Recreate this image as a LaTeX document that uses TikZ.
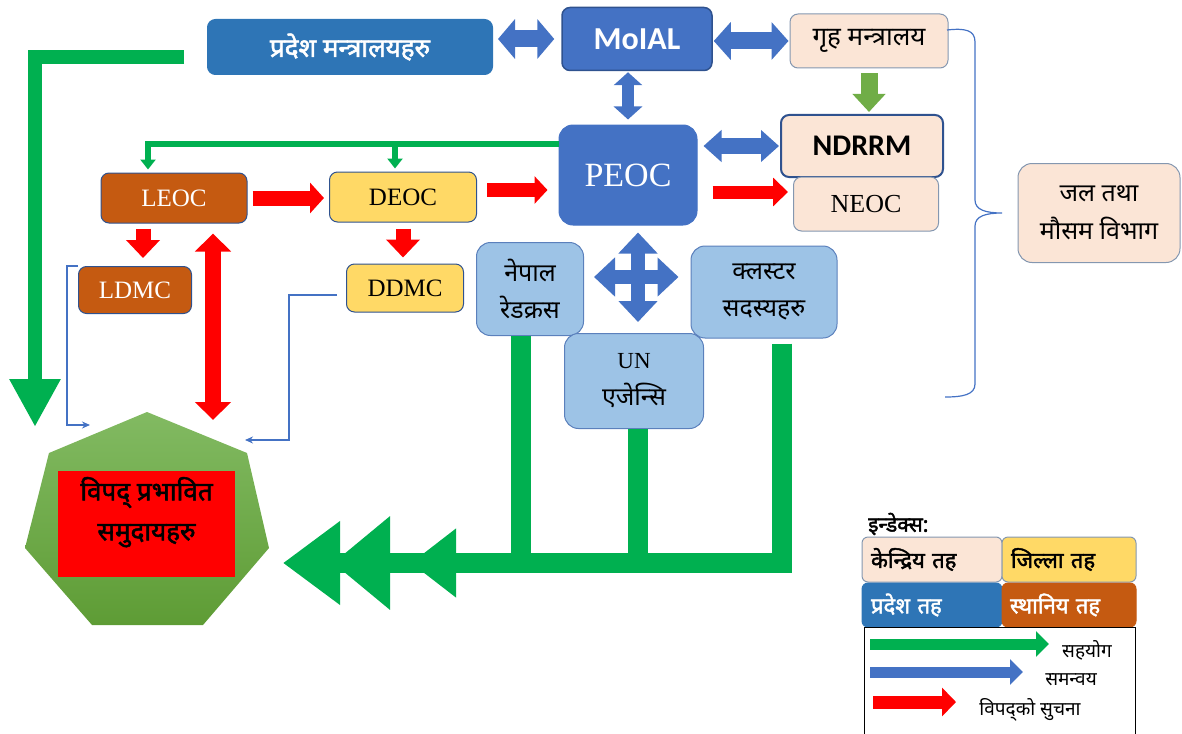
\documentclass[tikz,border=0pt]{standalone}
\usepackage{fontspec}
\setmainfont{Liberation Serif}
\newfontfamily\deva[Script=Devanagari]{Noto Sans}
\newfontfamily\devab[Script=Devanagari,FakeBold=2]{Noto Sans}
\newfontfamily\cali{Carlito}
\usetikzlibrary{arrows.meta}
\newcommand\npf[2]{\deva\fontsize{#1}{#2}\selectfont}
\newcommand\npb[2]{\devab\fontsize{#1}{#2}\selectfont}
\newcommand\ltf[1]{\fontsize{#1}{#1}\selectfont}
\definecolor{provblue}{HTML}{2E75B6}
\definecolor{oeblue}{HTML}{4472C4}
\definecolor{oeline}{HTML}{2F528F}
\definecolor{peach}{HTML}{FBE5D6}
\definecolor{peachline}{HTML}{8497B0}
\definecolor{skyfill}{HTML}{9DC3E6}
\definecolor{skyline}{HTML}{5B80BC}
\definecolor{rust}{HTML}{C55A11}
\definecolor{sun}{HTML}{FFD966}
\definecolor{leaf}{HTML}{00B050}
\definecolor{moss}{HTML}{70AD47}
\definecolor{alarm}{HTML}{FF0000}
\definecolor{heptop}{HTML}{82BA62}
\definecolor{heptbot}{HTML}{5E9C35}
\tikzset{
  box/.style={rounded corners=8pt, line width=1pt, inner sep=0pt, align=center},
  dbl/.style n args={3}{line width=#1, {Triangle[length=#2,width=#3]}-{Triangle[length=#2,width=#3]}},
  sgl/.style n args={3}{line width=#1, -{Triangle[length=#2,width=#3]}},
  thinlink/.style={oeblue, line width=1.2pt, -{Stealth[length=8pt,width=7pt]}}
}
\begin{document}
\begin{tikzpicture}[x=1pt, y=-1pt]
    \useasboundingbox (0, 0) rectangle (1182, 733);

    \node[box, fill=provblue, draw=provblue, text=white, minimum width=285pt, minimum height=55pt, font={\npb{26}{30}}] (prov) at (350, 47) {प्रदेश मन्त्रालयहरु};
    \node[box, fill=oeblue, draw=oeline, line width=1.5pt, text=white, minimum width=150pt, minimum height=63pt, font={\cali\bfseries\fontsize{32}{36}\selectfont}] (moial) at (637, 39) {MoIAL};
    \node[box, fill=peach, draw=peachline, minimum width=158pt, minimum height=54pt, font={\npf{26}{30}}] (griha) at (869, 41) {गृह मन्त्रालय};
    \node[box, fill=oeblue, draw=oeblue, text=white, rounded corners=14pt, minimum width=138pt, minimum height=100pt, font=\ltf{34}] (peoc) at (628, 175) {PEOC};
    \node[box, fill=peach, draw=oeline, line width=2pt, minimum width=162pt, minimum height=62pt, font={\cali\bfseries\fontsize{30}{34}\selectfont}] (ndrrm) at (862, 146) {NDRRM};
    \node[box, fill=peach, draw=peachline, minimum width=145pt, minimum height=54pt, font=\ltf{26}] (neoc) at (866, 204) {NEOC};
    \node[box, fill=rust, draw=oeline, text=white, minimum width=146pt, minimum height=50pt, font=\ltf{25}] (leoc) at (174, 198) {LEOC};
    \node[box, fill=sun, draw=oeline, minimum width=147pt, minimum height=50pt, font=\ltf{25}] (deoc) at (403, 197) {DEOC};
    \node[box, fill=rust, draw=oeline, text=white, minimum width=113pt, minimum height=47pt, font=\ltf{25}] (ldmc) at (135, 290) {LDMC};
    \node[box, fill=sun, draw=oeline, minimum width=117pt, minimum height=48pt, font=\ltf{25}] (ddmc) at (405, 288) {DDMC};
    \node[box, fill=skyfill, draw=skyline, rounded corners=14pt, minimum width=107pt, minimum height=93pt, font={\npf{25}{37}}] (nepal) at (530, 289) {नेपाल\\रेडक्रस};
    \node[box, fill=skyfill, draw=skyline, rounded corners=14pt, minimum width=146pt, minimum height=92pt, font={\npf{25}{37}}] (cluster) at (764, 292) {क्लस्टर\\सदस्यहरु};
    \node[box, fill=skyfill, draw=skyline, rounded corners=14pt, minimum width=139pt, minimum height=95pt, font={\npf{25}{37}}] (un) at (634, 381) {{\rmfamily\ltf{23}UN}\\एजेन्सि};
    \node[box, fill=peach, draw=peachline, rounded corners=14pt, minimum width=162pt, minimum height=99pt, font={\npf{25}{38}}] (jal) at (1099, 213) {जल तथा\\मौसम विभाग};

    \shade[top color=heptop, bottom color=heptbot] (147, 412) -- (247, 453) -- (269, 548) -- (203, 625) -- (92, 625) -- (25, 548) -- (49, 453) -- cycle;
    \node[fill=alarm, inner sep=0pt, minimum width=177pt, minimum height=106pt] (vict) at (146.5, 524) {};
    \node[anchor=north, align=center, inner sep=0pt, font={\npb{26}{40}}] (victxt) at ([yshift=-6pt]vict.north) {विपद्‌ प्रभावित\\समुदायहरु};

    \coordinate (gtip) at (35, 427);
    \coordinate (hnr) at (213, 420);
    \coordinate (lt) at (90, 425);
    \coordinate (dt) at (245, 440);
    \coordinate (ct) at (283, 563);
    \coordinate (ut) at (333, 563);
    \coordinate (nt) at (411, 563);

    \draw[oeblue, dbl={17pt}{17pt}{39pt}, shorten <=5pt, shorten >=7pt] (prov.east |- moial.west) -- (moial.west);
    \draw[oeblue, dbl={17pt}{17pt}{37pt}, shorten <=1pt, shorten >=1pt] (griha.west -| moial.east) -- (griha.west);
    \draw[oeblue, dbl={12pt}{13pt}{28pt}, shorten <=1pt, shorten >=5pt] (peoc.north |- moial.south) -- (peoc.north);
    \draw[oeblue, dbl={16pt}{18pt}{31pt}, shorten <=6pt, shorten >=1pt] (ndrrm.west -| peoc.east) -- (ndrrm.west);
    \draw[moss, sgl={17pt}{18pt}{32pt}, shorten <=5pt, shorten >=2pt] (griha.south) -- (griha.south |- ndrrm.north);
    \draw[alarm, sgl={13pt}{15pt}{28pt}, shorten <=15pt, shorten >=5pt] ([yshift=-17pt]peoc.east) -- ([yshift=12pt]neoc.west);
    \draw[alarm, sgl={15pt}{14pt}{30pt}, shorten <=5pt, shorten >=5pt] (leoc.east) -- (leoc.east -| deoc.west);
    \draw[alarm, sgl={14pt}{13pt}{27pt}, shorten <=10pt, shorten >=11pt] ([yshift=7pt]deoc.east) -- ([yshift=-15pt]peoc.west);
    \draw[alarm, sgl={15pt}{18pt}{33pt}, shorten <=5pt, shorten >=8pt] ([xshift=-31pt]leoc.south) -- ([xshift=8pt]ldmc.north);
    \draw[alarm, sgl={15pt}{18pt}{33pt}, shorten <=6pt, shorten >=6pt] (deoc.south) -- (deoc.south |- ddmc.north);
    \draw[alarm, dbl={16pt}{18pt}{35pt}, shorten <=10pt] ([xshift=39pt]leoc.south) -- (hnr);

    \draw[leaf, line width=6pt, -{Triangle[length=10pt,width=15pt]}, shorten >=3pt] ([yshift=31pt]peoc.west) -| ([xshift=-26pt]leoc.north);
    \draw[leaf, line width=6pt, -{Triangle[length=10pt,width=15pt]}, shorten >=3pt] ([xshift=-8pt]deoc.north) ++(0, -28) -- ([xshift=-8pt]deoc.north);
    \draw[leaf, line width=14pt, -{Triangle[length=48pt,width=48pt]}] ([xshift=-23pt,yshift=-10pt]prov.west) -| (gtip);

    \draw[thinlink] (ldmc.north west) -- ++(-11, 0) |- (lt);
    \draw[thinlink, shorten <=9pt] ([yshift=-7pt]ddmc.west) -- ++(-57, 0) |- (dt);

    \draw[oeblue, dbl={14pt}{21pt}{38pt}, shorten <=10pt, shorten >=12pt] ([yshift=12pt]nepal.east) -- ([yshift=15pt]cluster.west);
    \draw[oeblue, dbl={14pt}{21pt}{38pt}, shorten <=7pt, shorten >=11pt] ([xshift=10pt]peoc.south) -- ([xshift=4pt]un.north);

    \draw[leaf, line width=20pt, -{Triangle[length=57pt,width=80pt]}, shorten <=5pt] ([xshift=18pt]cluster.south) |- (ct);
    \draw[leaf, line width=20pt, -{Triangle[length=57pt,width=90pt]}] ([xshift=4pt]un.south) |- (ut);
    \draw[leaf, line width=20pt, -{Triangle[length=45pt,width=66pt]}] ([xshift=-9pt]nepal.south) |- (nt);

    \draw[oeblue, line width=1.2pt] (947, 30) .. controls (965, 28) and (975, 30) .. (975, 42) -- (975, 200) .. controls (975, 210) and (986, 213) .. (1002, 213) .. controls (986, 213) and (975, 216) .. (975, 226) -- (975, 384) .. controls (975, 395) and (962, 397) .. (945, 397);

    \node[anchor=west, inner sep=0pt, font={\npb{21}{24}}] (idx) at (868, 524) {इन्डेक्स:};
    \node[box, fill=peach, draw=peachline, rounded corners=6pt, minimum width=140pt, minimum height=45pt, text width=122pt, align=left, font={\npb{22}{26}}] (kt) at (932, 559.5) {केन्द्रिय तह};
    \node[box, fill=sun, draw=peachline, rounded corners=6pt, minimum width=134pt, minimum height=45pt, text width=116pt, align=left, font={\npb{22}{26}}] (jt) at (1069, 559.5) {जिल्ला तह};
    \node[box, fill=provblue, draw=provblue, text=white, rounded corners=6pt, minimum width=140pt, minimum height=44pt, text width=122pt, align=left, font={\npb{22}{26}}] (pt) at (932, 605) {प्रदेश तह};
    \node[box, fill=rust, draw=rust, text=white, rounded corners=6pt, minimum width=134pt, minimum height=44pt, text width=118pt, align=left, font={\npb{22}{26}}] (st) at (1069, 605) {स्थानिय तह};
    \draw[line width=1pt] (864, 745) -- (864, 627) -- (1135, 627) -- (1135, 745);
    \draw[leaf, sgl={11pt}{13pt}{25pt}] (870, 644) -- (1049, 644);
    \draw[oeblue, sgl={11pt}{13pt}{25pt}] (870, 672) -- (1023, 672);
    \draw[alarm, sgl={13pt}{14pt}{28pt}] (873, 702) -- (956, 702);
    \node[font={\npf{19}{22}}] (sah) at (1087, 650) {सहयोग};
    \node[font={\npf{19}{22}}] (sam) at (1071, 680) {समन्वय};
    \node[font={\npf{19}{22}}] (bip) at (1030, 710) {विपद्को सुचना};
\end{tikzpicture}
\end{document}
